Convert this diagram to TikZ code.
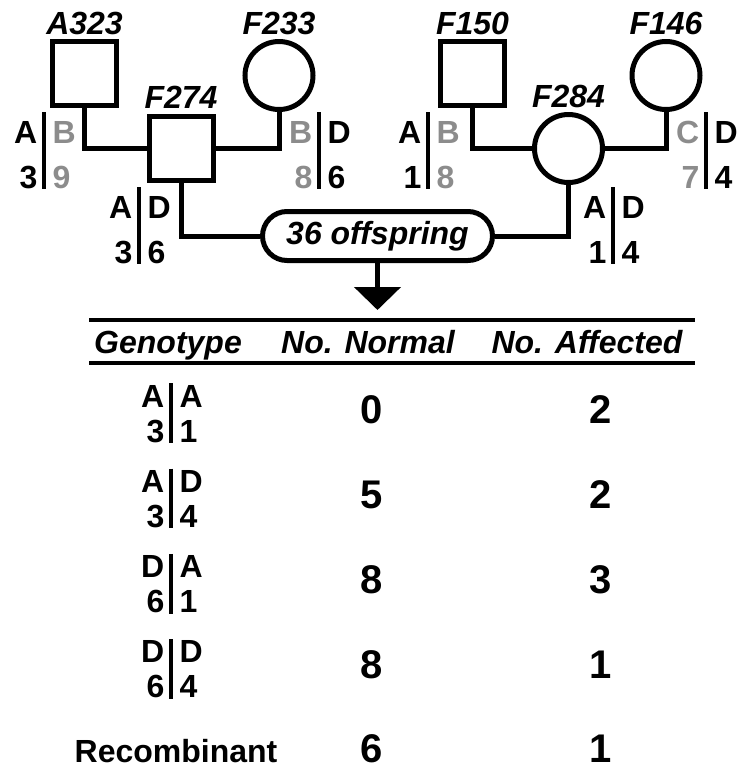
\documentclass[tikz,border=0pt]{standalone}
\usepackage{fontspec}
\setmainfont{Liberation Sans}
\usetikzlibrary{arrows.meta,shapes.misc,calc}
\colorlet{allele}{black!45}
\newcommand\gr[1]{\textcolor{allele}{#1}}
% genotype: name, bar x, top baseline, line gap, four alleles
\newcommand\geno[8]{%
  \node[gtxt,anchor=base east] (#1tl) at (#2-6.5,#3) {#5};
  \node[gtxt,anchor=base west] (#1tr) at (#2+8.5,#3) {#6};
  \node[gtxt,anchor=base east] (#1bl) at (#2-6.5,#3+#4) {#7};
  \node[gtxt,anchor=base west] (#1br) at (#2+8.5,#3+#4) {#8};
  \draw[line width=3.5pt] (#2,#3-0.68*#4) -- (#2,#3+#4+1);}
\begin{document}
\begin{tikzpicture}[x=1pt,y=-1pt,
    lw/.style={line width=5pt},
    male/.style={draw,lw,minimum size=64pt,inner sep=0},
    female/.style={draw,lw,circle,minimum size=68pt,inner sep=0},
    gtxt/.style={inner sep=0,font=\fontsize{32}{38}\selectfont\bfseries},
    idlbl/.style={inner sep=0,anchor=base,font=\fontsize{32}{38}\selectfont\bfseries\itshape},
    num/.style={inner sep=0,anchor=base,font=\fontsize{40}{48}\selectfont\bfseries},
    hrule/.style={line width=4pt}]
  \useasboundingbox (0,0) rectangle (739,772);
  % pedigree
  \node[male] (a323) at (84.5,73.5) {};
  \node[female] (f233) at (279,75.5) {};
  \node[male] (f274) at (181,148) {};
  \node[male] (f150) at (472.5,73.5) {};
  \node[female] (f146) at (666,75.5) {};
  \node[female] (f284) at (568.5,148.5) {};
  \foreach \n/\t in {a323/A323,f233/F233,f274/F274,f150/F150,f146/F146,f284/F284}
    \node[idlbl] (\n-id) at ($(\n.north)+(0,-5)$) {\t};
  \node[draw,lw,rounded rectangle,minimum width=230pt,minimum height=49pt,inner sep=0,
    font=\fontsize{32}{38}\selectfont\bfseries\itshape] (off) at (377.5,236) {36 offspring};
  \draw[lw] (a323.south) |- (f274.west);
  \draw[lw] (f274.east) -| (f233.south);
  \draw[lw] (f150.south) |- (f284.west);
  \draw[lw] (f284.east) -| (f146.south);
  \draw[lw] (f274.south) |- (off.west);
  \draw[lw] (f284.south) |- (off.east);
  \coordinate (tip) at (377.5,310);
  \draw[lw,-{Triangle[length=23pt,width=46pt]}] (off.south) -- (tip);
  \geno{ga}{44}{143}{45}{A}{\gr B}{3}{\gr 9}
  \geno{gb}{319}{143}{45}{\gr B}{D}{\gr 8}{6}
  \geno{gc}{139}{218}{45}{A}{D}{3}{6}
  \geno{gd}{428}{143}{45}{A}{\gr B}{1}{\gr 8}
  \geno{ge}{706}{143}{45}{\gr C}{D}{\gr 7}{4}
  \geno{gf}{613}{218}{45}{A}{D}{1}{4}
  % table
  \coordinate (t1l) at (89,320); \coordinate (t1r) at (695,320);
  \coordinate (t2l) at (89,363); \coordinate (t2r) at (695,363);
  \draw[hrule] (t1l) -- (t1r); \draw[hrule] (t2l) -- (t2r);
  \node[idlbl] (h1) at (168,353) {Genotype};
  \node[idlbl] (h2) at (368,353) {No. Normal};
  \node[idlbl] (h3) at (587,353) {No. Affected};
  \foreach \i/\a/\b/\c/\d/\n/\m in {0/A/A/3/1/0/2,1/A/D/3/4/5/2,2/D/A/6/1/8/3,3/D/D/6/4/8/1}{
    \geno{r\i}{171}{407+85.3*\i}{35}{\a}{\b}{\c}{\d}
    \node[num] (n\i) at (372,423+85.3*\i) {\n};
    \node[num] (m\i) at (601,423+85.3*\i) {\m};
  }
  \node[gtxt,anchor=base] (rec) at (176,762) {Recombinant};
  \node[num] (n4) at (372,762) {6};
  \node[num] (m4) at (601,762) {1};
\end{tikzpicture}
\end{document}
